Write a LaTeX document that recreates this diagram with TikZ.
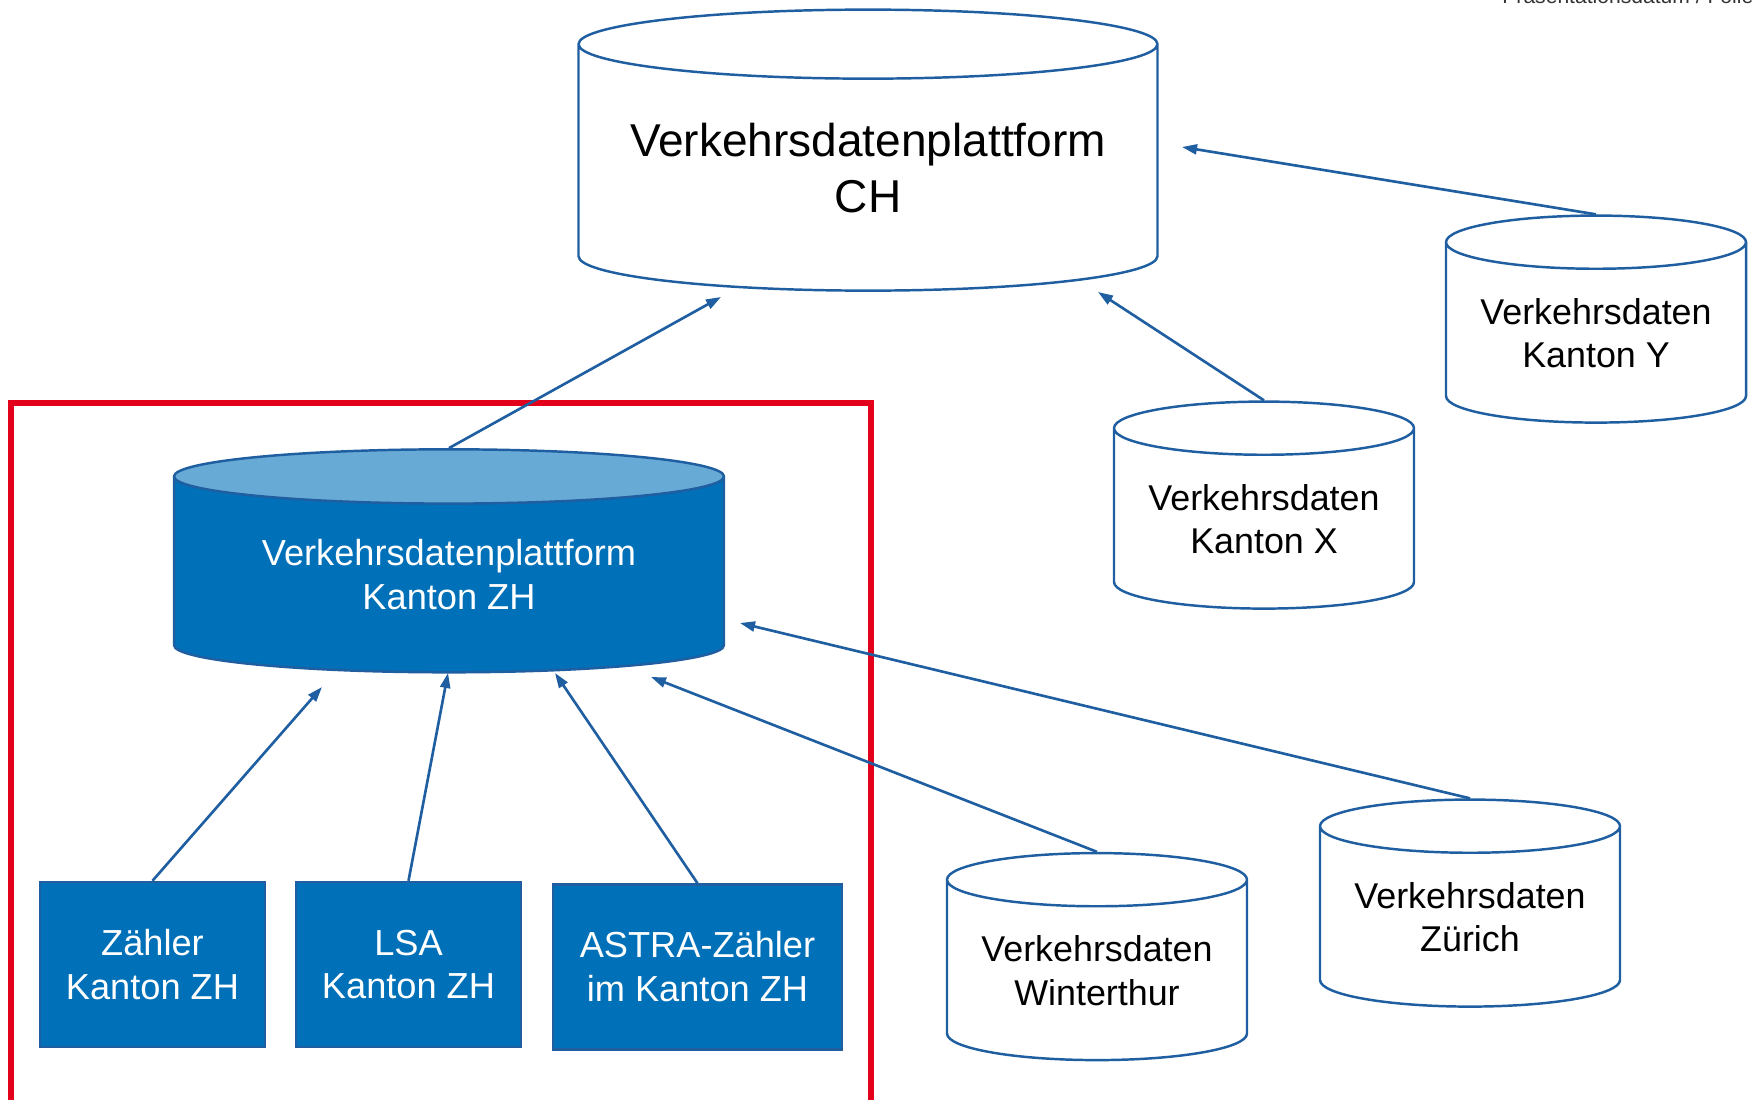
\documentclass[tikz,border=0pt]{standalone}
\usepackage{fontspec}
\setmainfont{Liberation Sans}
\usepackage{xcolor}
\usetikzlibrary{shapes.geometric,arrows.meta}

\definecolor{lineblue}{RGB}{31,94,160}
\definecolor{zhblue}{RGB}{0,112,184}
\definecolor{zhtop}{RGB}{103,170,214}
\definecolor{framered}{RGB}{226,0,26}

\tikzset{
	store/.style={cylinder, shape border rotate=90, draw=lineblue, line width=0.7pt,
		fill=white, align=center, inner sep=0pt, font=\fontsize{10.2}{12.4}\selectfont,
		minimum width=3cm, minimum height=2.07cm, aspect=0.23},
	bigstore/.style={store, minimum width=5.79cm, minimum height=2.81cm, aspect=0.145,
		font=\fontsize{13.1}{15.9}\selectfont},
	zhstore/.style={store, fill=none, minimum width=5.5cm, minimum height=2.23cm, aspect=0.145,
		cylinder uses custom fill, cylinder body fill=zhblue, cylinder end fill=zhtop,
		text=white, font=\fontsize{10.3}{12.5}\selectfont},
	source/.style={rectangle, draw=lineblue, line width=0.7pt, fill=zhblue, text=white,
		align=center, font=\fontsize{10.3}{12.5}\selectfont, minimum height=1.65cm},
	flow/.style={draw=lineblue, line width=0.75pt, -{Triangle[length=0.15cm, width=0.1cm]}}
}

\begin{document}
\begin{tikzpicture}
	\clip (0, 0) rectangle (17.52, 10.99);
	\node[anchor=base west, font=\fontsize{6}{7}\selectfont, text=black!80] (folie) at (14.9, 10.95) {Präsentationsdatum / Folie 6};

	% Swiss platform and the other cantons
	\node[bigstore] (ch) at (8.68, 9.31) {Verkehrsdatenplattform\\CH};
	\node[store] (ky) at (15.96, 7.66) {Verkehrsdaten\\Kanton Y};
	\node[store] (kx) at (12.64, 5.80) {Verkehrsdaten\\Kanton X};

	% Canton ZH
	\draw[framered, line width=1.5pt] (0.11, 6.96) rectangle (8.71, -0.2);
	\node[zhstore] (zh) at (4.49, 5.24) {Verkehrsdatenplattform\\Kanton ZH};
	\node[source, minimum width=2.25cm] (zaehler) at (1.525, 1.345) {Zähler\\Kanton ZH};
	\node[source, minimum width=2.25cm] (lsa) at (4.085, 1.345) {LSA\\Kanton ZH};
	\node[source, minimum width=2.89cm] (astra) at (6.975, 1.32) {ASTRA-Zähler\\im Kanton ZH};

	% Cities
	\node[store] (winti) at (10.97, 1.285) {Verkehrsdaten\\Winterthur};
	\node[store] (zuerich) at (14.70, 1.82) {Verkehrsdaten\\Zürich};

	% Arrow tips stop short of the platforms
	\coordinate (chA) at (7.21, 8.02);
	\coordinate (chB) at (10.98, 8.07);
	\coordinate (chC) at (11.82, 9.52);
	\coordinate (zhA) at (3.22, 4.12);
	\coordinate (zhB) at (4.48, 4.26);
	\coordinate (zhC) at (5.55, 4.26);
	\coordinate (zhD) at (6.51, 4.22);
	\coordinate (zhE) at (7.40, 4.76);

	\draw[flow] (zh.north) -- (chA);
	\draw[flow] (kx.north) -- (chB);
	\draw[flow] (ky.north) -- (chC);
	\draw[flow] (zaehler.north) -- (zhA);
	\draw[flow] (lsa.north) -- (zhB);
	\draw[flow] (astra.north) -- (zhC);
	\draw[flow] (winti.north) -- (zhD);
	\draw[flow] (zuerich.north) -- (zhE);
\end{tikzpicture}
\end{document}
